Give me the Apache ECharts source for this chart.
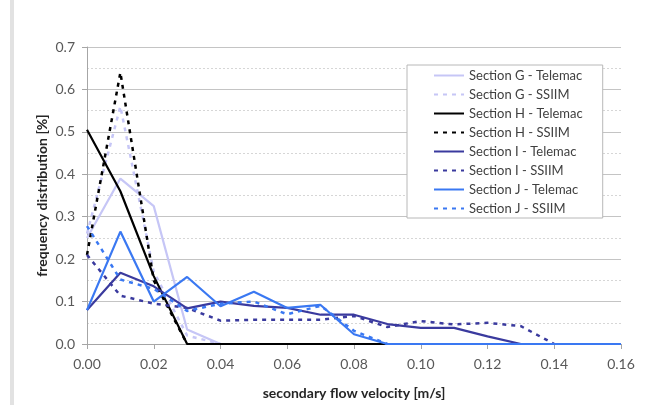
<!DOCTYPE html>
<html>
<head>
<meta charset="utf-8">
<script src="https://cdn.jsdelivr.net/npm/echarts@6/dist/echarts.min.js"></script>
<style>
html,body{margin:0;padding:0;background:#fff;}
#c{width:646px;height:405px;}
</style>
</head>
<body>
<div id="c"></div>
<script>
const xValues = [0,0.01,0.02,0.03,0.04,0.05,0.06,0.07,0.08,0.09,0.10,0.11,0.12,0.13,0.14,0.15,0.16];
const yTicks = [0,0.1,0.2,0.3,0.4,0.5,0.6,0.7];
const xTicks = [0,0.02,0.04,0.06,0.08,0.10,0.12,0.14,0.16];

const gTelemac = [0.25,0.39,0.325,0.034,0];
const gSSIIM   = [0.26,0.56,0.17,0.02,0];
const hTelemac = [0.505,0.36,0.16,0,0,0,0,0,0,0];
const hSSIIM   = [0.21,0.64,0.15,0];
const iTelemac = [0.08,0.168,0.136,0.084,0.10,0.09,0.085,0.069,0.069,0.047,0.038,0.038,0.018,0];
const iSSIIM   = [0.21,0.114,0.095,0.085,0.055,0.057,0.057,0.057,0.066,0.04,0.054,0.046,0.05,0.042,0];
const jTelemac = [0.08,0.265,0.10,0.158,0.089,0.123,0.085,0.092,0.023,0,0,0,0,0,0,0,0];
const jSSIIM   = [0.278,0.152,0.13,0.078,0.095,0.10,0.07,0.09,0.031,0];

const names = ['Section G - Telemac','Section G - SSIIM','Section H - Telemac','Section H - SSIIM',
               'Section I - Telemac','Section I - SSIIM','Section J - Telemac','Section J - SSIIM'];
const colors = ['#c6c6f6','#c6c6f6','#000000','#000000','#3a3a9e','#3a3a9e','#3a78f2','#3a78f2'];
const datasets = [gTelemac,gSSIIM,hTelemac,hSSIIM,iTelemac,iSSIIM,jTelemac,jSSIIM];

const FONT = 'Lato';
const series = datasets.map((arr,i)=>({
  name: names[i],
  type: 'line',
  symbol: 'none',
  data: arr.map((v,k)=>[xValues[k], v]),
  lineStyle: {
    color: colors[i],
    width: i%2===0 ? 2.2 : 2.5,
    type: i%2===0 ? 'solid' : [4,5]
  },
  itemStyle: {color: colors[i]},
  emphasis: {disabled: true},
  animation: false
}));

const chart = echarts.init(document.getElementById('c'));
chart.setOption({
  animation: false,
  backgroundColor: '#fff',
  graphic: [{
    type: 'rect', left: 10, top: 0, shape: {width: 4, height: 405},
    style: {fill: '#e2e2e2'}, silent: true
  }],
  grid: {left: 87, right: 25, top: 47, bottom: 60},
  legend: {
    orient: 'vertical',
    left: 407, top: 65,
    padding: [4, 20, 3, 26],
    itemWidth: 30, itemHeight: 14, itemGap: 6,
    backgroundColor: '#fff',
    borderColor: '#b8b8b8', borderWidth: 1,
    itemStyle: {opacity: 0},
    textStyle: {fontFamily: FONT, fontSize: 13, color: '#404040'},
    data: names
  },
  xAxis: {
    type: 'value', min: 0, max: 0.16, interval: 0.02,
    name: 'secondary flow velocity [m/s]',
    nameLocation: 'middle', nameGap: 42, nameMoveOverlap: false,
    nameTextStyle: {fontFamily: FONT, fontSize: 14, fontWeight: 'bold', color: '#262626'},
    axisLine: {show: true, lineStyle: {color: '#a6a6a6', width: 1}},
    axisTick: {show: true, length: 5, lineStyle: {color: '#a6a6a6'}},
    axisLabel: {fontFamily: FONT, fontSize: 14, color: '#595959', margin: 13,
      formatter: v => v.toFixed(2)},
    splitLine: {show: false}
  },
  yAxis: {
    type: 'value', min: 0, max: 0.7, interval: 0.1,
    name: 'frequency distribution [%]',
    nameLocation: 'middle', nameGap: 38, nameMoveOverlap: false,
    nameTextStyle: {fontFamily: FONT, fontSize: 14, fontWeight: 'bold', color: '#262626'},
    axisLine: {show: true, lineStyle: {color: '#a6a6a6', width: 1}},
    axisTick: {show: true, length: 5, lineStyle: {color: '#a6a6a6'}},
    axisLabel: {fontFamily: FONT, fontSize: 14, color: '#595959', margin: 12,
      formatter: v => v.toFixed(1)},
    splitLine: {show: true, lineStyle: {color: '#c4c4c4', width: 1}},
    minorTick: {show: false, splitNumber: 2},
    minorSplitLine: {show: true, lineStyle: {color: '#d6d6d6', width: 1, type: [2,2]}}
  },
  series: series
});
</script>
</body>
</html>
